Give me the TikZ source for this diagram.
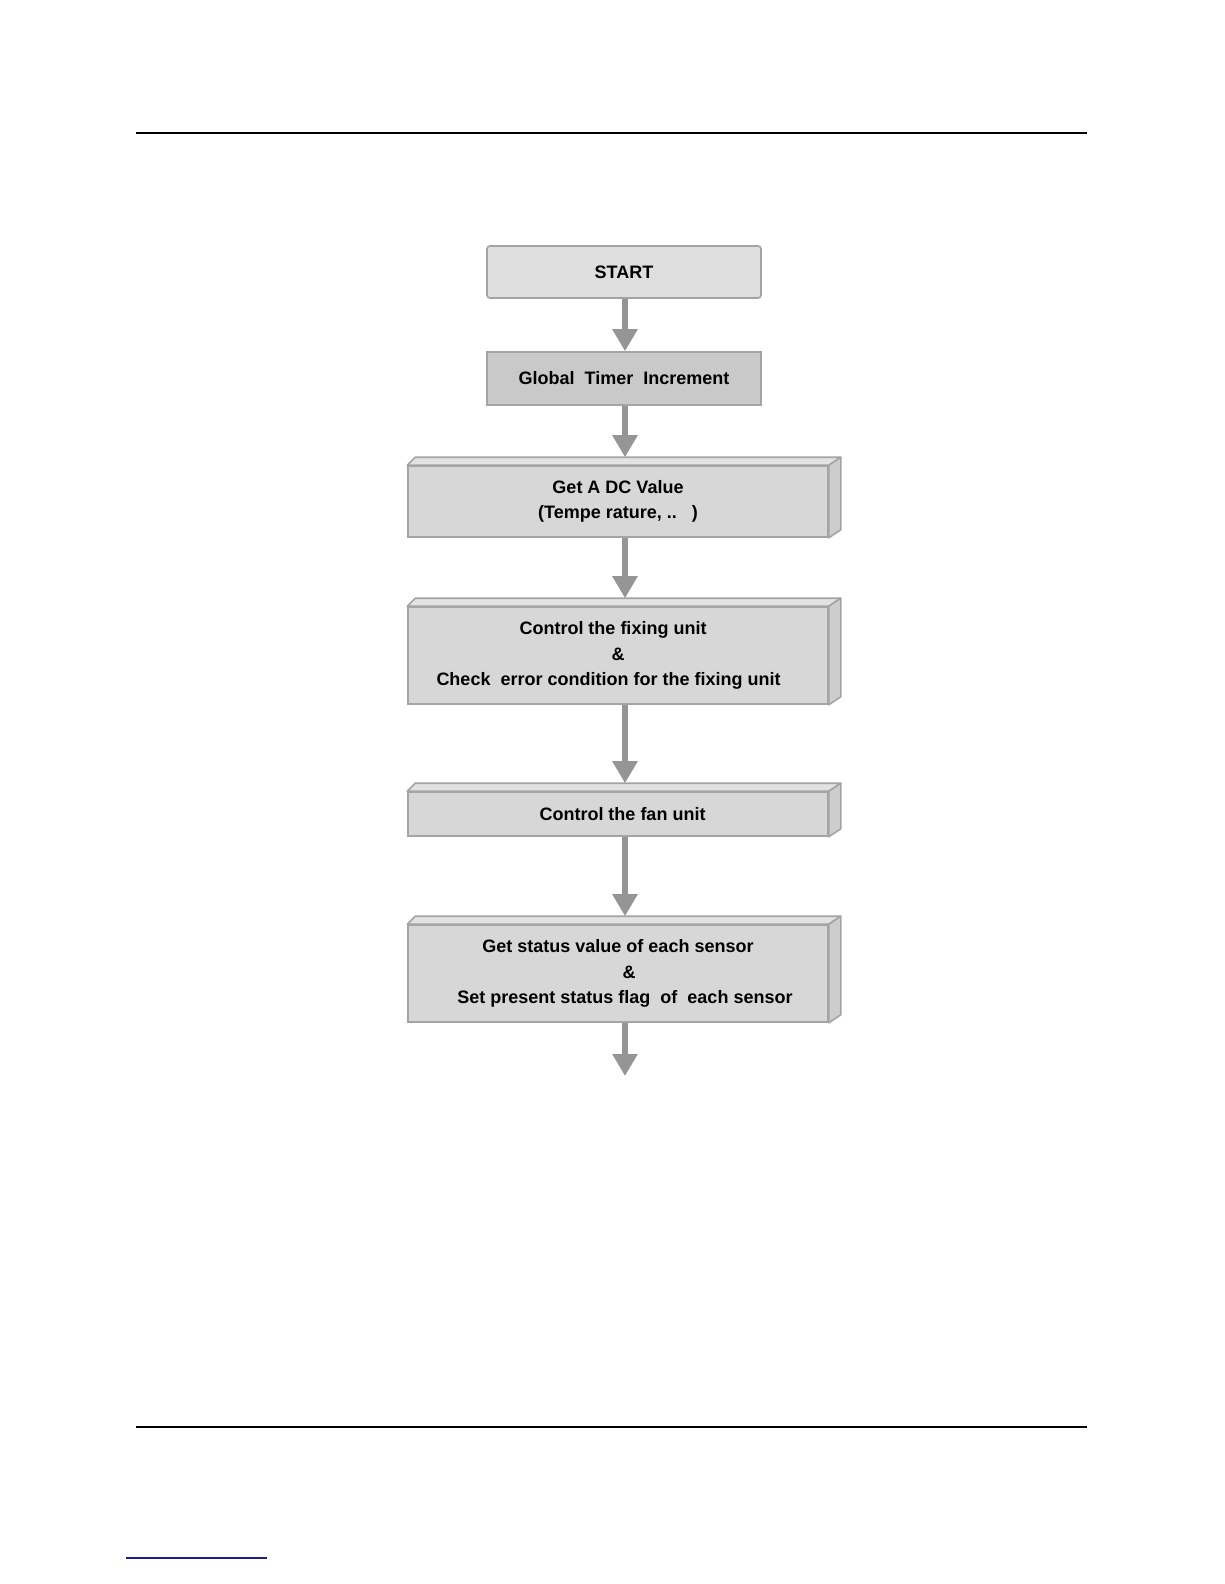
\documentclass[tikz,border=0pt]{standalone}
\usepackage{fontspec}
\setmainfont{Liberation Sans}
\usetikzlibrary{arrows.meta}
\definecolor{edgegray}{HTML}{A4A4A4}
\definecolor{startfill}{HTML}{DEDEDE}
\definecolor{timerfill}{HTML}{C9C9C9}
\definecolor{frontfill}{HTML}{D7D7D7}
\definecolor{topfill}{HTML}{E2E2E2}
\definecolor{sidefill}{HTML}{CDCDCD}
\definecolor{arrowgray}{HTML}{959595}
\definecolor{navyline}{HTML}{1C1C8A}
\tikzset{
  boxtext/.style={align=center, font=\fontsize{18}{25.5}\selectfont\bfseries, inner sep=0pt},
  startbox/.style={boxtext, draw=edgegray, line width=1.6pt, fill=startfill, rounded corners=3pt, minimum width=274pt, minimum height=52pt},
  timerbox/.style={boxtext, draw=edgegray, line width=1.6pt, fill=timerfill, minimum width=274pt, minimum height=53pt},
  frontbox/.style={boxtext, draw=edgegray, line width=1.6pt, fill=frontfill, minimum width=420pt},
  faceline/.style={draw=edgegray, line width=1.6pt, line join=round},
  flowarrow/.style={line width=6pt, draw=arrowgray, -{Triangle[width=24pt,length=22pt]}},
  rulerline/.style={line width=1.6pt, draw=black}
}
\newcommand{\boxfaces}[1]{%
  \filldraw[faceline, fill=topfill] (#1.north west) -- ++(8,-8) -- ([xshift=12pt,yshift=8pt]#1.north east) -- (#1.north east) -- cycle;
  \filldraw[faceline, fill=sidefill] (#1.north east) -- ([xshift=12pt,yshift=8pt]#1.north east) -- ([xshift=12pt,yshift=8pt]#1.south east) -- (#1.south east) -- cycle;
}
\begin{document}
\begin{tikzpicture}[x=1pt,y=-1pt]
\path[use as bounding box, fill=white] (0,0) rectangle (1224,1584);
% page rules
\coordinate (r1a) at (136,133); \coordinate (r1b) at (1087,133);
\coordinate (r2a) at (136,1427); \coordinate (r2b) at (1087,1427);
\coordinate (r3a) at (126,1558); \coordinate (r3b) at (267,1558);
\draw[rulerline] (r1a) -- (r1b);
\draw[rulerline] (r2a) -- (r2b);
\draw[line width=1.4pt, draw=navyline] (r3a) -- (r3b);

% boxes
\node[startbox] (start) at (624,272) {START};
\node[timerbox] (timer) at (624,378.5) {Global\ \ Timer\ \ Increment};
\node[frontbox, minimum height=71pt] (adc) at (618,501.5) {Get A DC Value\\(Tempe rature, ..\ \ \ )};
\boxfaces{adc}
\node[frontbox, minimum height=97pt] (fix) at (618,655.5) {\hspace*{-10pt}Control the fixing unit\\\&\\\hspace*{-19pt}Check\ \ error condition for the fixing unit};
\boxfaces{fix}
\node[frontbox, minimum height=44pt] (fan) at (618,814) {\hspace*{9pt}Control the fan unit};
\boxfaces{fan}
\node[frontbox, minimum height=97pt] (sens) at (618,973.5) {Get status value of each sensor\\\hspace*{22pt}\&\\\hspace*{14pt}Set present status flag\ \ of\ \ each sensor};
\boxfaces{sens}
\coordinate (endpt) at (625,1076);

% arrows
\draw[flowarrow] ([xshift=1pt]start.south) -- ([xshift=1pt]timer.north);
\draw[flowarrow] ([xshift=1pt]timer.south) -- ([xshift=7pt,yshift=8pt]adc.north);
\draw[flowarrow] ([xshift=7pt]adc.south) -- ([xshift=7pt,yshift=8pt]fix.north);
\draw[flowarrow] ([xshift=7pt]fix.south) -- ([xshift=7pt,yshift=8pt]fan.north);
\draw[flowarrow] ([xshift=7pt]fan.south) -- ([xshift=7pt,yshift=8pt]sens.north);
\draw[flowarrow] ([xshift=7pt]sens.south) -- (endpt);
\end{tikzpicture}
\end{document}
